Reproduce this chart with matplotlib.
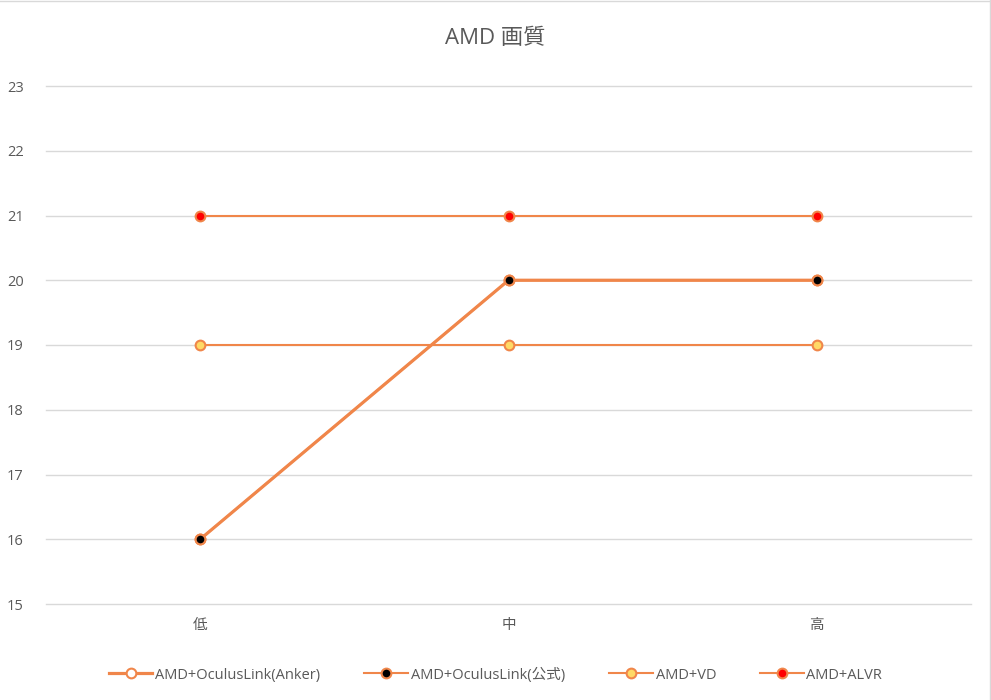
import matplotlib
matplotlib.use('Agg')
from matplotlib import pyplot as plt
from matplotlib.lines import Line2D

plt.rcParams['font.family'] = ['Open Sans', 'Noto Sans CJK JP', 'DejaVu Sans']

categories = ['低', '中', '高']
anker = [16, 20, 20]
official = [16, 20, 20]
vd = [19, 19, 19]
alvr = [21, 21, 21]
yticks = [15, 16, 17, 18, 19, 20, 21, 22, 23]

line_color = '#F0864A'
text_color = '#595959'

fig = plt.figure(figsize=(9.91, 7), dpi=100)
ax = fig.add_axes([46/991, 1 - 604/700, 925/991, 518/700])

x = range(len(categories))
ax.plot(x, anker, color=line_color, lw=2.3, marker='o', ms=7, mfc='white',
        mec=line_color, mew=1.5, label='AMD+OculusLink(Anker)', zorder=3)
ax.plot(x, official, color=line_color, lw=1.5, marker='o', ms=7, mfc='black',
        mec=line_color, mew=1.5, label='AMD+OculusLink(公式)', zorder=4)
ax.plot(x, vd, color=line_color, lw=1.5, marker='o', ms=7, mfc='#FFD966',
        mec=line_color, mew=1.5, label='AMD+VD', zorder=3)
ax.plot(x, alvr, color=line_color, lw=1.5, marker='o', ms=7, mfc='#FF0000',
        mec=line_color, mew=1.5, label='AMD+ALVR', zorder=3)

ax.set_xlim(-0.5, 2.5)
ax.set_ylim(15, 23)
ax.set_yticks(yticks)
ax.set_xticks(list(x))
ax.set_xticklabels(categories)
for y in yticks:
    ax.axhline(y, color='#D9D9D9', lw=1, zorder=1, clip_on=False)
for s in ax.spines.values():
    s.set_visible(False)
ax.tick_params(axis='both', length=0, labelsize=10.5, colors=text_color)
ax.tick_params(axis='y', pad=16)
ax.tick_params(axis='x', pad=10)

fig.text(0.5, 1 - 38/700, 'AMD 画質', ha='center', va='center', fontsize=16, color=text_color)

fig.legend(loc='center', bbox_to_anchor=(0.5, 1 - 675/700), ncol=4, frameon=False,
           fontsize=10.5, labelcolor=text_color, handlelength=3.0, columnspacing=3.0,
           handletextpad=0.2)

# light frame on top and right like the source image
fig.add_artist(Line2D([0, 1], [0.999, 0.999], transform=fig.transFigure, color='#D9D9D9', lw=1))
fig.add_artist(Line2D([0.999, 0.999], [0, 1], transform=fig.transFigure, color='#D9D9D9', lw=1))

fig.savefig('out.png', dpi=100)
